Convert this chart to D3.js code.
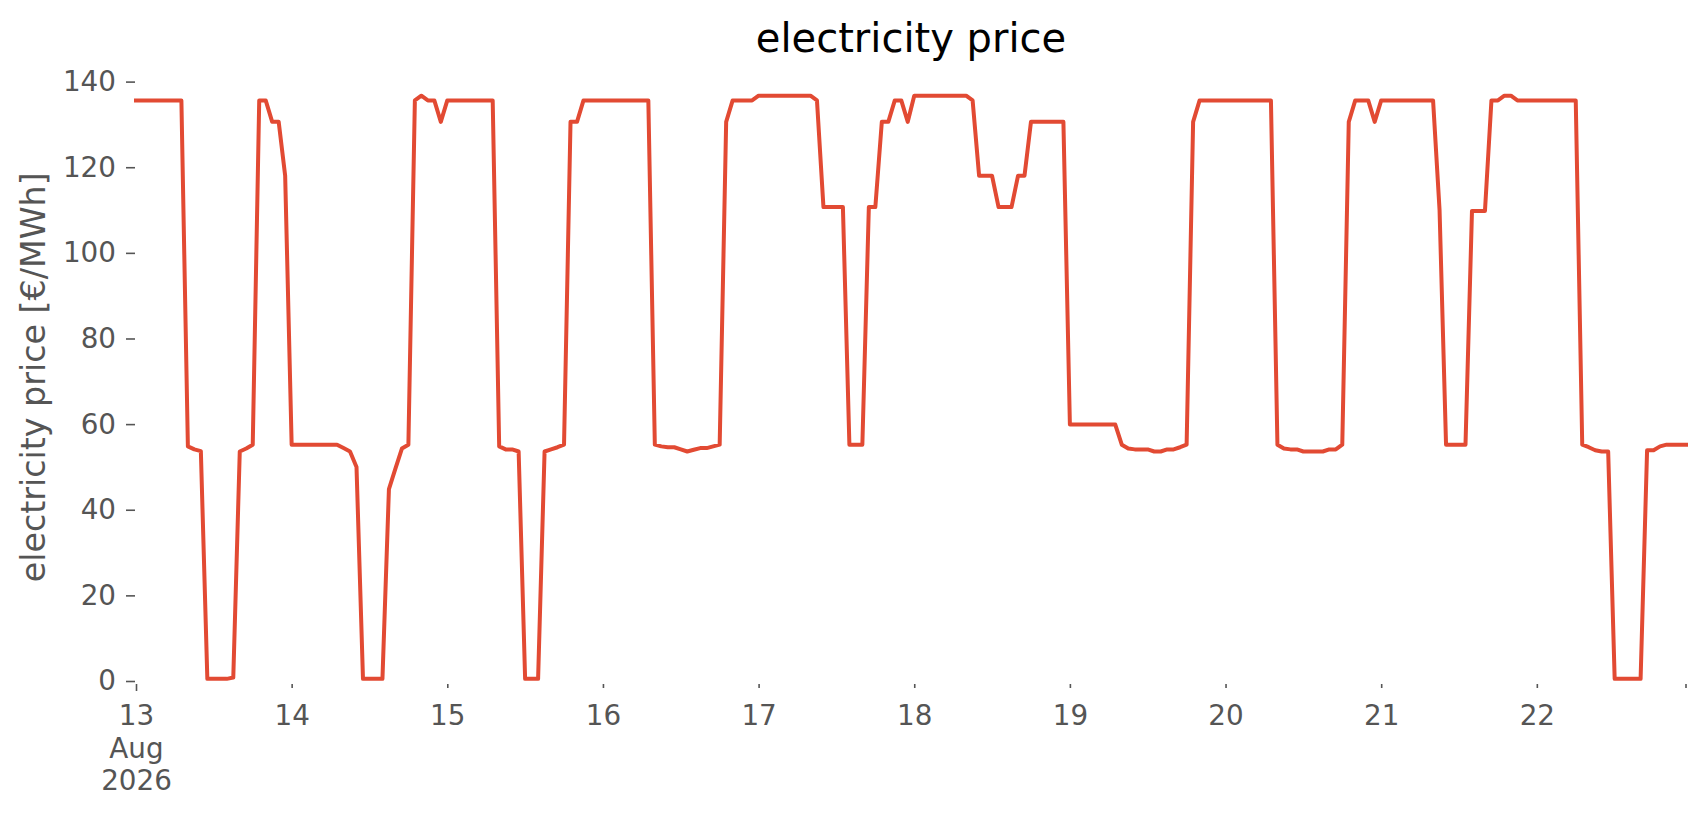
<!DOCTYPE html>
<html>
<head>
<meta charset="utf-8">
<script src="https://cdn.jsdelivr.net/npm/d3@7"></script>
<style>
  html, body { margin: 0; padding: 0; background: #ffffff; }
  svg { display: block; font-family: "DejaVu Sans", sans-serif; }
</style>
</head>
<body>
<svg id="chart" width="1706" height="815"></svg>
<script>
// Hourly electricity prices [€/MWh], one array per day (00:00 ... 23:00)
const startDate = new Date(2026, 7, 13, 0, 0);
const day13 = [135.6,135.6,135.6,135.6,135.6,135.6,135.6,135.6,54.8,54.1,53.7,0.5,0.5,0.5,0.5,0.8,53.6,54.3,55.2,135.6,135.6,130.6,130.6,118.0];
const day14 = [55.2,55.2,55.2,55.2,55.2,55.2,55.2,55.2,54.4,53.6,50.0,0.5,0.5,0.5,0.5,44.8,49.6,54.3,55.2,135.6,136.7,135.6,135.6,130.6];
const day15 = [135.6,135.6,135.6,135.6,135.6,135.6,135.6,135.6,54.8,54.1,54.1,53.6,0.5,0.5,0.5,53.6,54.1,54.6,55.2,130.6,130.6,135.6,135.6,135.6];
const day16 = [135.6,135.6,135.6,135.6,135.6,135.6,135.6,135.6,55.2,54.8,54.6,54.6,54.1,53.6,54.0,54.4,54.4,54.8,55.2,130.6,135.6,135.6,135.6,135.6];
const day17 = [136.7,136.7,136.7,136.7,136.7,136.7,136.7,136.7,136.7,135.6,110.7,110.7,110.7,110.7,55.2,55.2,55.2,110.7,110.7,130.6,130.6,135.6,135.6,130.6];
const day18 = [136.7,136.7,136.7,136.7,136.7,136.7,136.7,136.7,136.7,135.6,118.0,118.0,118.0,110.7,110.7,110.7,118.0,118.0,130.6,130.6,130.6,130.6,130.6,130.6];
const day19 = [59.9,59.9,59.9,59.9,59.9,59.9,59.9,59.9,55.2,54.3,54.1,54.1,54.1,53.6,53.6,54.1,54.1,54.6,55.2,130.6,135.6,135.6,135.6,135.6];
const day20 = [135.6,135.6,135.6,135.6,135.6,135.6,135.6,135.6,55.2,54.3,54.1,54.1,53.6,53.6,53.6,53.6,54.1,54.1,55.2,130.6,135.6,135.6,135.6,130.6];
const day21 = [135.6,135.6,135.6,135.6,135.6,135.6,135.6,135.6,135.6,110.0,55.2,55.2,55.2,55.2,109.8,109.8,109.8,135.6,135.6,136.7,136.7,135.6,135.6,135.6];
const day22 = [135.6,135.6,135.6,135.6,135.6,135.6,135.6,55.2,54.6,53.9,53.6,53.6,0.5,0.5,0.5,0.5,0.5,53.9,53.9,54.8,55.2,55.2,55.2,55.2];

const yTicks = [0, 20, 40, 60, 80, 100, 120, 140];
const xTickDays = [13, 14, 15, 16, 17, 18, 19, 20, 21, 22];
const xTickLabels = [["13", "Aug", "2026"], ["14"], ["15"], ["16"], ["17"], ["18"], ["19"], ["20"], ["21"], ["22"]];
const titleText = "electricity price";
const yLabelText = "electricity price [€/MWh]";

// Build the hourly series
const days = [day13, day14, day15, day16, day17, day18, day19, day20, day21, day22];
const series = [];
days.forEach((arr, d) => {
  arr.forEach((v, h) => {
    series.push({ t: new Date(2026, 7, 13 + d, h, 0), v: v });
  });
});

const svg = d3.select("#chart");
const plotLeft = 136, plotRight = 1686, plotTop = 81.6, plotBottom = 681;
const tickColor = "#555555";

const x = d3.scaleTime()
  .domain([series[0].t, series[series.length - 1].t])
  .range([plotLeft, plotRight]);
const y = d3.scaleLinear().domain([0, 140]).range([plotBottom, plotTop]);

// Title
svg.append("text")
  .attr("x", 911).attr("y", 52)
  .attr("text-anchor", "middle")
  .attr("font-size", 40)
  .attr("fill", "#000000")
  .text(titleText);

// Y axis label
svg.append("text")
  .attr("transform", `translate(45, ${(plotTop + plotBottom) / 2 - 4}) rotate(-90)`)
  .attr("text-anchor", "middle")
  .attr("font-size", 33.3)
  .attr("fill", tickColor)
  .text(yLabelText);

// Y axis
const yAxis = d3.axisLeft(y).tickValues(yTicks).tickSize(9).tickPadding(10);
const gy = svg.append("g").attr("transform", `translate(${plotLeft - 1},0)`).call(yAxis);
gy.select(".domain").remove();
gy.selectAll(".tick line").attr("stroke", tickColor).attr("stroke-width", 1.6);
gy.selectAll(".tick text")
  .attr("font-size", 27.8)
  .attr("font-family", "DejaVu Sans")
  .attr("fill", tickColor);

// X axis
const xTickDates = xTickDays.map(d => new Date(2026, 7, d, 0, 0));
const gx = svg.append("g").attr("transform", `translate(0, ${plotBottom + 3})`);
const xAxis = d3.axisBottom(x).tickValues(xTickDates).tickSize(0).tickFormat(() => "");
gx.call(xAxis);
gx.select(".domain").remove();
gx.selectAll(".tick").each(function(d, i) {
  const g = d3.select(this);
  g.select("line").remove();
  g.append("line")
    .attr("x1", 0).attr("x2", 0)
    .attr("y1", 0).attr("y2", i === 0 ? 7 : 4)
    .attr("stroke", tickColor).attr("stroke-width", 1.6);
  const lines = xTickLabels[i];
  const txt = g.select("text").text(null)
    .attr("y", 0).attr("dy", null)
    .attr("font-size", 27.8)
    .attr("font-family", "DejaVu Sans")
    .attr("fill", tickColor)
    .attr("text-anchor", "middle");
  lines.forEach((s, k) => {
    txt.append("tspan").attr("x", 0).attr("y", 41 + k * 32.5).text(s);
  });
});
// unlabeled tick at the end of the range
gx.append("line")
  .attr("x1", x(series[series.length - 1].t)).attr("x2", x(series[series.length - 1].t))
  .attr("y1", 0).attr("y2", 4)
  .attr("stroke", tickColor).attr("stroke-width", 1.6);

// Line
const line = d3.line().x(d => x(d.t)).y(d => y(d.v));
svg.append("path")
  .datum(series)
  .attr("d", line)
  .attr("fill", "none")
  .attr("stroke", "#E24A33")
  .attr("stroke-width", 4)
  .attr("stroke-linejoin", "round")
  .attr("stroke-linecap", "square");
</script>
</body>
</html>
